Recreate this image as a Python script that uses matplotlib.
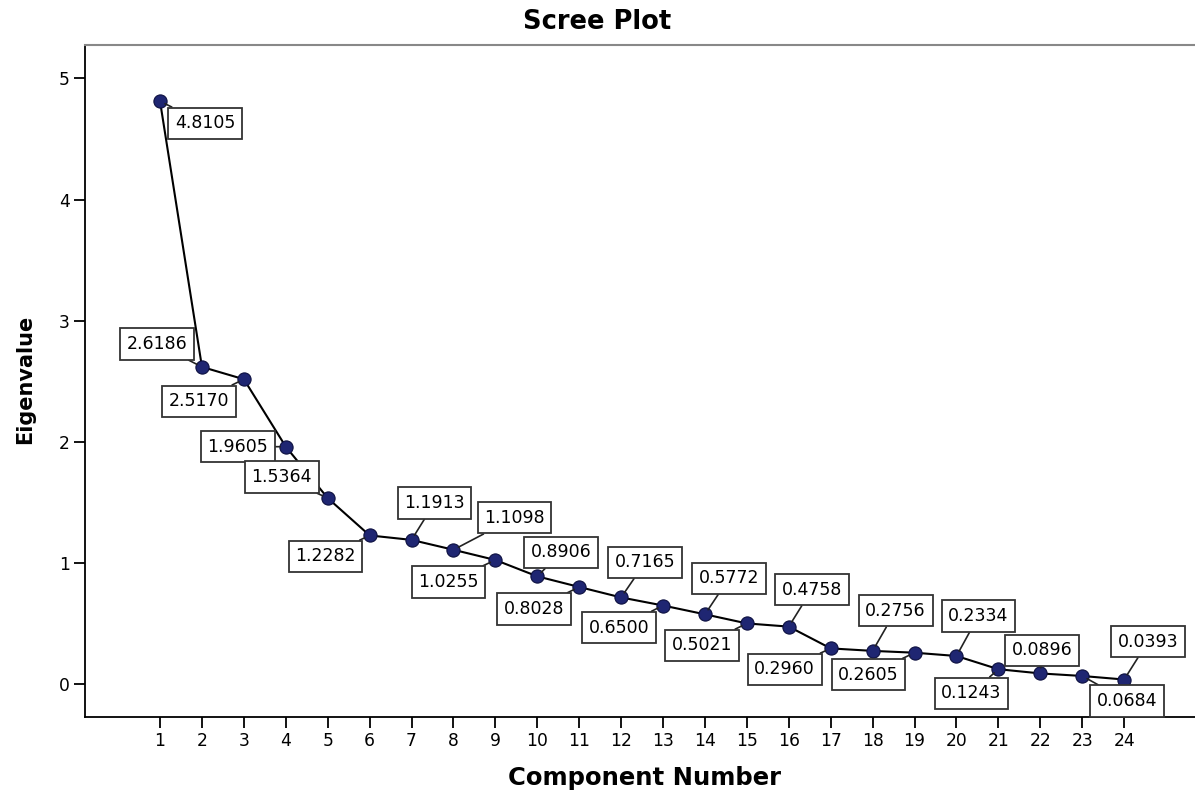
import numpy as np
import matplotlib
matplotlib.use("Agg")
import matplotlib.pyplot as plt

# valores propios del scree plot
components = list(range(1, 25))
eigenvalues = [4.8105, 2.6186, 2.5170, 1.9605, 1.5364, 1.2282, 1.1913, 1.1098,
               1.0255, 0.8906, 0.8028, 0.7165, 0.6500, 0.5772, 0.5021, 0.4758,
               0.2960, 0.2756, 0.2605, 0.2334, 0.1243, 0.0896, 0.0684, 0.0393]
y_ticks = [0, 1, 2, 3, 4, 5]

# desplazamiento de cada etiqueta (pixeles, x derecha / y abajo)
label_offsets = [(45, 22), (-45, -23), (-45, 22), (-48, 0), (-46, -21), (-44, 21),
                 (23, -37), (61, -32), (-47, 22), (24, -24), (-45, 22), (24, -35),
                 (-44, 22), (24, -36), (-45, 22), (23, -37), (-46, 21), (23, -40),
                 (-46, 22), (22, -40), (-27, 24), (2, -23), (45, 25), (24, -38)]

fig = plt.figure(figsize=(11.95, 7.93), dpi=100)
ax = fig.add_axes([85/1195, 1-717/793, 1-85/1195, (717-45)/793])

ax.plot(components, eigenvalues, color='black', lw=1.5, zorder=2,
        marker='o', markersize=9.5, markerfacecolor='#1f2672',
        markeredgecolor='#0d1040', markeredgewidth=0.8)

for c, v, (dx, dy) in zip(components, eigenvalues, label_offsets):
    ax.annotate(f"{v:.4f}", xy=(c, v), xytext=(dx, -dy), textcoords='offset pixels',
                ha='center', va='center', fontsize=12.5, zorder=5,
                bbox=dict(boxstyle='square,pad=0.38', fc='white', ec='#333333', lw=1.3),
                arrowprops=dict(arrowstyle='-', color='#222222', lw=1.2,
                                shrinkA=0, shrinkB=4))

ax.set_xlim(-0.79, 25.69)
ax.set_ylim(-0.27, 5.275)
ax.set_xticks(components)
ax.set_yticks(y_ticks)
ax.tick_params(direction='out', length=8, width=1.3, labelsize=12.3, pad=3, colors='black')

ax.spines['right'].set_visible(False)
ax.spines['top'].set_color('#888888')
ax.spines['top'].set_linewidth(1.5)
ax.spines['left'].set_linewidth(1.3)
ax.spines['bottom'].set_linewidth(1.3)

fig.text(0.5, 1-22/793, 'Scree Plot', ha='center', va='center', fontsize=18.5, fontweight='bold')
fig.text(645/1195, 1-778/793, 'Component Number', ha='center', va='center', fontsize=17.5, fontweight='bold')
fig.text(25/1195, 1-379/793, 'Eigenvalue', ha='center', va='center', rotation=90,
         fontsize=15, fontweight='bold')

plt.savefig('out.png', dpi=100)
